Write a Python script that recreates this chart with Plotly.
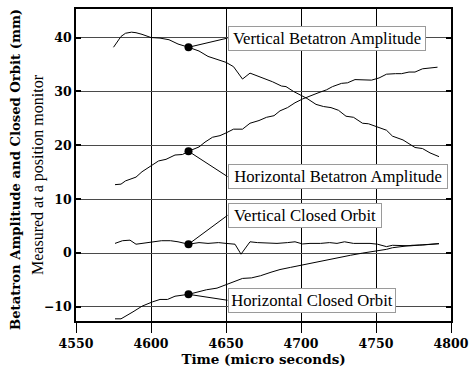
import plotly.graph_objects as go

# ---- data ----
vba_t = [4575, 4580, 4583, 4587, 4590, 4594, 4600, 4606, 4612, 4618, 4625, 4632, 4638, 4645, 4650,
         4655, 4661, 4666, 4672, 4677, 4681, 4687, 4690, 4695, 4704, 4710, 4715, 4720, 4725, 4730,
         4735, 4741, 4745, 4750, 4757, 4761, 4768, 4772, 4776, 4781, 4786, 4792]
vba_y = [38.2, 40.2, 40.8, 41.0, 40.9, 40.6, 40.0, 39.9, 39.6, 38.8, 38.2, 37.5, 36.5, 35.8, 35.4,
         34.6, 32.3, 33.4, 32.8, 32.2, 31.8, 31.0, 30.9, 30.0, 28.7, 27.6, 27.2, 27.0, 26.5, 25.4,
         25.2, 24.1, 24.0, 23.5, 22.8, 21.7, 21.0, 20.3, 19.6, 19.4, 18.6, 17.9]

hba_t = [4576, 4580, 4583, 4587, 4590, 4594, 4601, 4605, 4610, 4616, 4621, 4625, 4632, 4636, 4641,
         4646, 4650, 4655, 4661, 4666, 4672, 4677, 4682, 4686, 4691, 4696, 4701, 4707, 4712, 4717,
         4721, 4727, 4731, 4736, 4742, 4747, 4752, 4757, 4763, 4767, 4772, 4776, 4781, 4787, 4791]
hba_y = [12.7, 12.8, 13.4, 13.8, 14.1, 15.1, 16.3, 17.1, 17.4, 18.2, 18.3, 18.9, 19.7, 20.6, 21.5,
         21.8, 22.3, 23.0, 23.0, 24.1, 24.6, 25.2, 25.5, 26.4, 27.0, 27.9, 28.6, 29.3, 29.8, 30.3,
         30.9, 31.5, 31.6, 32.2, 32.2, 32.1, 32.5, 33.2, 33.3, 33.3, 33.6, 33.6, 34.2, 34.4, 34.5]

vco_t = [4576, 4581, 4586, 4590, 4594, 4601, 4607, 4613, 4618, 4625, 4632, 4638, 4645, 4650, 4656,
         4660, 4666, 4671, 4678, 4684, 4691, 4696, 4701, 4706, 4713, 4719, 4724, 4729, 4735, 4741,
         4746, 4751, 4757, 4761, 4768, 4773, 4779, 4785, 4792]
vco_y = [1.8, 2.3, 2.4, 1.65, 1.8, 2.1, 2.3, 2.3, 2.1, 1.65, 1.95, 1.8, 1.95, 1.8, 1.65,
         -0.2, 2.1, 1.95, 1.8, 1.8, 1.95, 2.1, 1.7, 1.8, 1.8, 1.95, 1.8, 2.1, 1.8, 1.8,
         1.8, 1.65, 1.2, 1.45, 1.45, 1.35, 1.5, 1.65, 1.75]

hco_t = [4576, 4580, 4588, 4594, 4601, 4606, 4611, 4616, 4625, 4632, 4637, 4644, 4650, 4656, 4661,
         4667, 4673, 4680, 4686, 4693, 4701, 4708, 4716, 4724, 4733, 4741, 4751, 4757, 4761, 4768,
         4774, 4781, 4787, 4792]
hco_y = [-12.2, -12.2, -10.9, -9.85, -9.05, -8.6, -8.6, -8.0, -7.65, -7.1, -6.8, -6.5, -5.9, -5.3, -4.7,
         -4.6, -4.2, -3.55, -3.05, -2.65, -2.2, -1.7, -1.25, -0.8, -0.4, 0.0, 0.4, 0.7, 1.0, 1.2,
         1.45, 1.5, 1.65, 1.75]

label_names = ["Vertical Betatron Amplitude", "Horizontal Betatron Amplitude",
               "Vertical Closed Orbit", "Horizontal Closed Orbit"]
label_t = 4625
label_values = [38.2, 18.9, 1.65, -7.65]
label_box_t = 4651
label_box_y = [39.9, 14.2, 7.0, -8.75]
label_box_w = [192, 214, 148, 162]

x_ticks = [4550, 4600, 4650, 4700, 4750, 4800]
y_ticks = [-10, 0, 10, 20, 30, 40]

x_title = "Time (micro seconds)"
y_title_1 = "Betatron Amplitude and Closed Orbit (mm)"
y_title_2 = "Measured at a position monitor"

# ---- figure ----
fig = go.Figure()
for t, y in [(vba_t, vba_y), (hba_t, hba_y), (vco_t, vco_y), (hco_t, hco_y)]:
    fig.add_trace(go.Scatter(x=t, y=y, mode="lines",
                             line=dict(color="black", width=1), showlegend=False,
                             hoverinfo="skip"))

fig.add_trace(go.Scatter(x=[label_t] * len(label_values), y=label_values, mode="markers",
                         marker=dict(color="black", size=8), showlegend=False,
                         hoverinfo="skip"))

serif = "Liberation Serif"
bold_font = "DejaVu Serif"

for name, v, by, w in zip(label_names, label_values, label_box_y, label_box_w):
    fig.add_annotation(x=label_t, y=v, xref="x", yref="y",
                       ax=label_box_t, ay=by, axref="x", ayref="y",
                       text=name, showarrow=True, arrowhead=0, arrowwidth=1,
                       arrowcolor="black", standoff=0, startstandoff=0,
                       xanchor="left", yanchor="middle", align="center",
                       width=w, height=19,
                       font=dict(family=serif, size=16.7, color="black"),
                       bgcolor="white", bordercolor="#9a9a9a", borderwidth=1, borderpad=2)

fig.add_annotation(text="<b>" + y_title_1 + "</b>", textangle=-90,
                   xref="paper", yref="paper", x=0, y=0.5, xanchor="center", yanchor="middle",
                   xshift=-61, yshift=-5, showarrow=False,
                   font=dict(family=bold_font, size=13.2, color="black"))
fig.add_annotation(text=y_title_2, textangle=-90,
                   xref="paper", yref="paper", x=0, y=0.5, xanchor="center", yanchor="middle",
                   xshift=-38, yshift=-10, showarrow=False,
                   font=dict(family=serif, size=16, color="black"))

fig.update_layout(
    width=476, height=372,
    margin=dict(l=76, r=18, t=7, b=51),
    paper_bgcolor="white", plot_bgcolor="white",
    font=dict(family=bold_font, size=12.5, color="black"),
    xaxis=dict(range=[4550, 4800], tickvals=x_ticks,
               ticktext=["<b>%d</b>" % v for v in x_ticks],
               ticks="outside", ticklen=10,
               tickwidth=1, tickcolor="black",
               showgrid=True, gridcolor="black", gridwidth=1,
               showline=True, linecolor="black", linewidth=1.5, mirror=True,
               zeroline=False,
               tickfont=dict(family=bold_font, size=12.5, color="black", weight=700),
               title=dict(text="<b>" + x_title + "</b>", standoff=4,
                          font=dict(family=bold_font, size=13.5, color="black"))),
    yaxis=dict(range=[-12.6, 45.3], tickvals=y_ticks,
               ticktext=["<b>%s</b>" % str(v).replace("-", "\u2212") for v in y_ticks],
               ticks="inside", ticklen=5,
               tickwidth=2, tickcolor="black",
               showgrid=True, gridcolor="#4a4a4a", gridwidth=1.3,
               showline=True, linecolor="black", linewidth=1.5, mirror="ticks",
               zeroline=False,
               tickfont=dict(family=bold_font, size=12.5, color="black", weight=700)),
)

fig.write_html("out.html")
